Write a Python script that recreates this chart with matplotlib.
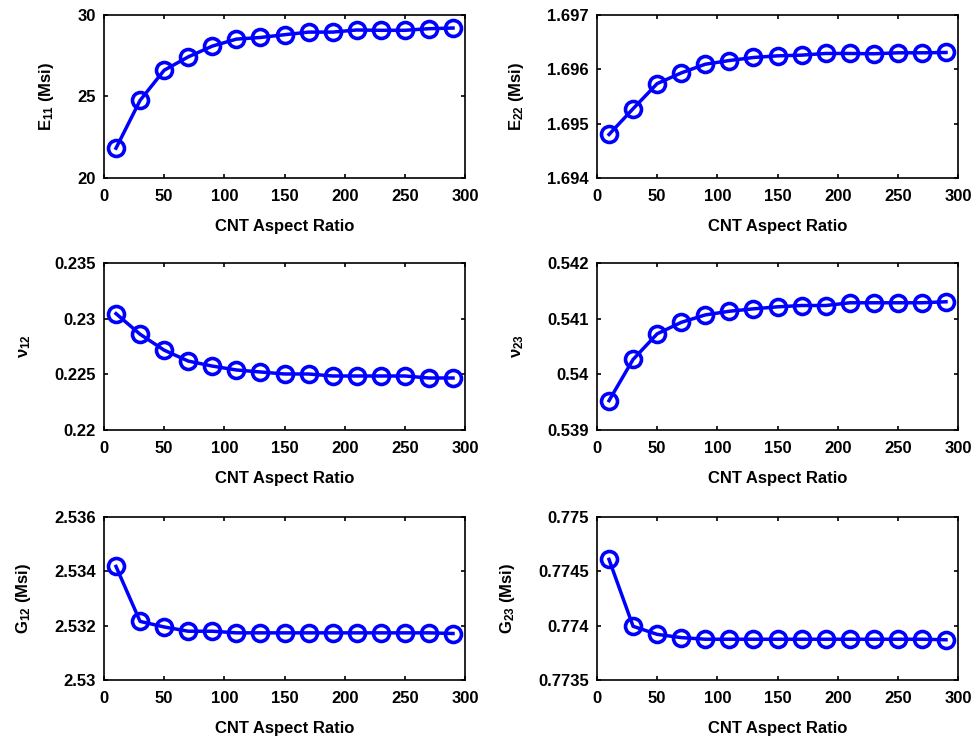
import numpy as np
import matplotlib.pyplot as plt

plt.rcParams['font.family'] = ['Liberation Sans', 'DejaVu Sans']
plt.rcParams['font.weight'] = 'bold'
plt.rcParams['mathtext.fontset'] = 'custom'
plt.rcParams['mathtext.rm'] = 'Liberation Sans:bold'
plt.rcParams['mathtext.it'] = 'Liberation Sans:bold'
plt.rcParams['mathtext.bf'] = 'Liberation Sans:bold'
plt.rcParams['mathtext.default'] = 'rm'

# data
aspect_ratio = [10, 30, 50, 70, 90, 110, 130, 150, 170, 190, 210, 230, 250, 270, 290]

E11 = [21.83, 24.76, 26.61, 27.43, 28.09, 28.52, 28.62, 28.79, 28.95, 28.95,
       29.08, 29.06, 29.06, 29.16, 29.20]
E22 = [1.694801, 1.695275, 1.695737, 1.695934, 1.696094, 1.696162, 1.696218,
       1.696248, 1.696261, 1.696292, 1.696292, 1.696286, 1.696304, 1.696304, 1.696310]
v12 = [0.23045, 0.2286, 0.22717, 0.22619, 0.22574, 0.22539, 0.22521, 0.22503,
       0.22503, 0.22485, 0.22485, 0.22485, 0.22485, 0.22467, 0.22467]
v23 = [0.539527, 0.540267, 0.540727, 0.540933, 0.541067, 0.541133, 0.541176,
       0.541212, 0.541236, 0.541236, 0.541285, 0.541285, 0.541285, 0.541285, 0.541303]
G12 = [2.534181, 2.532157, 2.531952, 2.531795, 2.531795, 2.531735, 2.531735,
       2.531735, 2.531735, 2.531735, 2.531735, 2.531735, 2.531735, 2.531735, 2.531711]
G23 = [0.774610, 0.773994, 0.773920, 0.773890, 0.773875, 0.773875, 0.773875,
       0.773875, 0.773875, 0.773875, 0.773875, 0.773875, 0.773875, 0.773875, 0.773870]

series = [E11, E22, v12, v23, G12, G23]
ylabels = ['E$_{11}$ (Msi)', 'E$_{22}$ (Msi)', 'ν$_{12}$', 'ν$_{23}$',
           'G$_{12}$ (Msi)', 'G$_{23}$ (Msi)']
ylims = [(20, 30), (1.694, 1.697), (0.22, 0.235), (0.539, 0.542),
         (2.53, 2.536), (0.7735, 0.775)]
yticks = [[20, 25, 30], [1.694, 1.695, 1.696, 1.697], [0.22, 0.225, 0.23, 0.235],
          [0.539, 0.54, 0.541, 0.542], [2.53, 2.532, 2.534, 2.536],
          [0.7735, 0.774, 0.7745, 0.775]]
yticklabels = [['20', '25', '30'], ['1.694', '1.695', '1.696', '1.697'],
               ['0.22', '0.225', '0.23', '0.235'], ['0.539', '0.54', '0.541', '0.542'],
               ['2.53', '2.532', '2.534', '2.536'], ['0.7735', '0.774', '0.7745', '0.775']]

fig = plt.figure(figsize=(9.78, 7.42), dpi=100)

lefts = [0.1063, 0.6104]
width = 0.3692
bottoms = [0.7601, 0.4205, 0.0836]
heights = [0.2197, 0.2251, 0.2196]

for i in range(6):
    r, c = divmod(i, 2)
    ax = fig.add_axes([lefts[c], bottoms[r], width, heights[r]])
    ax.plot(aspect_ratio, series[i], color='#0000ff', lw=2.5, marker='o',
            ms=11.5, mfc='none', mew=2.6)
    ax.set_xlim(0, 300)
    ax.set_xticks(range(0, 301, 50))
    ax.set_ylim(*ylims[i])
    ax.set_yticks(yticks[i])
    ax.set_yticklabels(yticklabels[i])
    ax.tick_params(direction='in', length=3, width=1.2, top=True, right=True,
                   labelsize=12, pad=6)
    ax.tick_params(axis='x', pad=8)
    for sp in ax.spines.values():
        sp.set_linewidth(1.2)
    ax.set_xlabel('CNT Aspect Ratio', fontsize=12, fontweight='bold', labelpad=11)
    ax.set_ylabel(ylabels[i], fontsize=12, fontweight='bold', labelpad=15)

fig.savefig('out.png', dpi=100)
